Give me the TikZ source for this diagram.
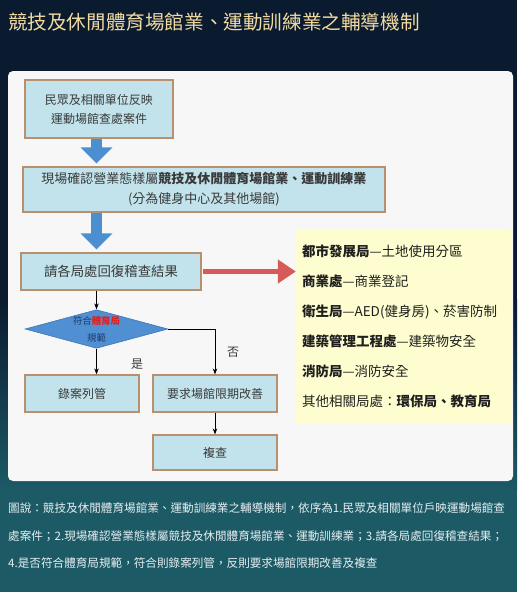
\documentclass[tikz,border=0pt]{standalone}
\usepackage{fontspec}
\setmainfont{Noto Sans CJK TC}
\usetikzlibrary{arrows.meta,shapes.geometric}
\definecolor{bgnavy}{HTML}{0A1A2F}
\definecolor{bgteal}{HTML}{1C5A66}
\definecolor{panelwhite}{HTML}{F8F7F7}
\definecolor{titlegold}{HTML}{F2DBA2}
\definecolor{captext}{HTML}{E6EEF0}
\definecolor{boxfill}{HTML}{C2E3EC}
\definecolor{boxline}{HTML}{B9906E}
\definecolor{boxtext}{HTML}{3A3A3A}
\definecolor{flowblue}{HTML}{4C8FD1}
\definecolor{flowred}{HTML}{D65A57}
\definecolor{decfill}{HTML}{4F8FD2}
\definecolor{decline}{HTML}{3F78B8}
\definecolor{dectext}{HTML}{1F3A6A}
\definecolor{decred}{HTML}{E02020}
\definecolor{hintyellow}{HTML}{FDFDCF}
\tikzset{
  procbox/.style={draw=boxline,line width=1.2pt,fill=boxfill,text=boxtext,inner sep=0pt,align=center},
  decision/.style={diamond,draw=decline,line width=0.6pt,fill=decfill,aspect=3.7,inner sep=0pt,align=center,text=dectext,font=\fontsize{9.4}{17}\selectfont},
  bigarrow/.style={draw=flowblue,line width=11pt,-{Triangle[width=31pt,length=16pt]},shorten >=3pt},
  redarrow/.style={draw=flowred,line width=5pt,-{Triangle[width=23pt,length=18pt]},shorten <=1pt},
  flowline/.style={draw=black,line width=0.7pt,-{Stealth[length=6pt,width=4.5pt]}},
  lab/.style={font=\fontsize{12}{14}\selectfont,text=boxtext},
  hintbox/.style={fill=hintyellow,text width=203pt,inner xsep=6pt,inner ysep=0pt,minimum height=194pt,align=left,text=black!88,font=\fontsize{13.5}{30}\selectfont},
  capt/.style={text=captext,align=left,inner sep=0pt,font=\fontsize{11.6}{27.5}\selectfont},
}
\begin{document}
\begin{tikzpicture}[x=1pt,y=-1pt]
  \useasboundingbox (0,0) rectangle (517,592);
  \fill[bgnavy] (0,0) rectangle (517,300);
  \shade[top color=bgnavy,bottom color=bgteal] (0,299) rectangle (517,490);
  \fill[bgteal] (0,489) rectangle (517,592);
  \fill[panelwhite,rounded corners=5pt] (8,71) rectangle (513,481);

  \node[anchor=west,inner sep=0pt,text=titlegold,font=\fontsize{19.6}{24}\selectfont] (title) at (8,22) {競技及休閒體育場館業、運動訓練業之輔導機制};

  \node[procbox,minimum width=148pt,minimum height=58pt,font=\fontsize{12}{19}\selectfont] (b1) at (99,109) {民眾及相關單位反映\\運動場館查處案件};
  \node[procbox,minimum width=362pt,minimum height=45pt,font=\fontsize{13}{20}\selectfont] (b2) at (204,189.5) {現場確認營業態樣屬\textbf{競技及休閒體育場館業、運動訓練業}\\(分為健身中心及其他場館)};
  \node[procbox,minimum width=180pt,minimum height=37pt,font=\fontsize{13.4}{16}\selectfont] (b3) at (111,271.5) {請各局處回復稽查結果};
  \node[decision] (d) at (96.5,329) {符合\textcolor{decred}{\textbf{體育局}}\\規範};
  \node[procbox,minimum width=114pt,minimum height=37pt,font=\fontsize{12}{14}\selectfont] (b4) at (82,393.5) {錄案列管};
  \node[procbox,minimum width=124pt,minimum height=37pt,font=\fontsize{12}{14}\selectfont] (b5) at (215,393.5) {要求場館限期改善};
  \node[procbox,minimum width=124pt,minimum height=35pt,font=\fontsize{12}{14}\selectfont] (b6) at (215,452.5) {複查};

  \node[hintbox] (yb) at (403.5,326) {\textbf{都市發展局}—土地使用分區\\
    \textbf{商業處}—商業登記\\
    \textbf{衛生局}—AED(健身房)、菸害防制\\
    \textbf{建築管理工程處}—建築物安全\\
    \textbf{消防局}—消防安全\\
    其他相關局處：\textbf{環保局、教育局}};

  \draw[bigarrow] (b1.south -| d.north) -- (b2.north -| d.north);
  \draw[bigarrow] (b2.south -| d.north) -- (b3.north -| d.north);
  \draw[redarrow] (b3.east) -- (yb.west |- b3.east);
  \draw[flowline] (b3.south -| d.north) -- (d.north);
  \draw[flowline] (d.south) -- (d.south |- b4.north);
  \draw[flowline] (d.east) -| (b5.north);
  \draw[flowline] (b5.south) -- (b6.north);

  \node[lab] (yes) at (137,364) {是};
  \node[lab] (no) at (233,352) {否};

  \node[capt,anchor=west] (note) at (8,536) {圖說：競技及休閒體育場館業、運動訓練業之輔導機制，依序為1.民眾及相關單位戶映運動場館查\\處案件；2.現場確認營業態樣屬競技及休閒體育場館業、運動訓練業；3.請各局處回復稽查結果；\\4.是否符合體育局規範，符合則錄案列管，反則要求場館限期改善及複查};
\end{tikzpicture}
\end{document}
